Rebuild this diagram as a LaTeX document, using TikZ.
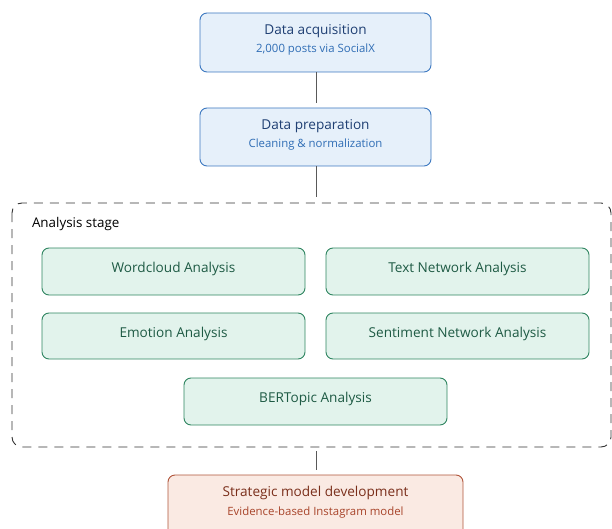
\documentclass[tikz,border=0pt]{standalone}
\usepackage{fontspec}
\setmainfont{Open Sans}
\begin{document}
\begin{tikzpicture}[x=1pt,y=-1pt,
  every node/.style={inner sep=0pt, outer sep=0pt},
  bluebox/.style={draw=blueB, fill=blueF, line width=0.9pt, rounded corners=7pt},
  greenbox/.style={draw=greenB, fill=greenF, line width=0.9pt, rounded corners=7pt},
  redbox/.style={draw=redB, fill=redF, line width=0.9pt, rounded corners=7pt},
  conn/.style={draw=gray!70!black, line width=0.9pt},
  ttl/.style={font=\fontsize{13.6}{15}\selectfont},
  sub/.style={font=\fontsize{11.4}{13}\selectfont}]
\definecolor{blueB}{HTML}{3C78C0}
\definecolor{blueF}{HTML}{E6F0FA}
\definecolor{blueT}{HTML}{1F3F73}
\definecolor{blueS}{HTML}{2F6DB5}
\definecolor{greenB}{HTML}{2E8560}
\definecolor{greenF}{HTML}{E2F3EC}
\definecolor{greenT}{HTML}{1E5A44}
\definecolor{redB}{HTML}{B0543A}
\definecolor{redF}{HTML}{FAEAE3}
\definecolor{redT}{HTML}{7A2E1A}
\definecolor{redS}{HTML}{A8442A}
\useasboundingbox (0,0) rectangle (612,529);

% boxes
\path[bluebox] (200,13) rectangle (431,72);
\node[ttl, text=blueT] (acqT) at (315.5,31) {Data acquisition};
\node[sub, text=blueS] (acqS) at (315.5,50) {2,000 posts via SocialX};

\path[bluebox] (200,108) rectangle (431,166);
\node[ttl, text=blueT] (prepT) at (315.5,126) {Data preparation};
\node[sub, text=blueS] (prepS) at (315.5,145) {Cleaning \& normalization};

\coordinate (a1) at (316,72.5);
\coordinate (a2) at (316,103);
\coordinate (b1) at (316,166.5);
\coordinate (b2) at (316,197);
\draw[conn] (a1) -- (a2);
\draw[conn] (b1) -- (b2);

% analysis stage
\draw[gray!40!black, line width=0.9pt, dash pattern=on 9pt off 7pt, rounded corners=10pt] (12,203) rectangle (611,447);
\node[anchor=west, font=\fontsize{13.4}{15}\selectfont] (stage) at (32,224) {Analysis stage};

\path[greenbox] (42,248) rectangle (305,295);
\node[ttl, text=greenT] (wc) at (173.5,268.5) {Wordcloud Analysis};
\path[greenbox] (326,248) rectangle (589,295);
\node[ttl, text=greenT] (tn) at (457.5,268.5) {Text Network Analysis};
\path[greenbox] (42,313) rectangle (305,359);
\node[ttl, text=greenT] (em) at (173.5,333.5) {Emotion Analysis};
\path[greenbox] (326,313) rectangle (589,359);
\node[ttl, text=greenT] (sn) at (457.5,333.5) {Sentiment Network Analysis};
\path[greenbox] (184,378) rectangle (447,425);
\node[ttl, text=greenT] (bt) at (315.5,398.5) {BERTopic Analysis};

\coordinate (c1) at (316,451);
\coordinate (c2) at (316,470);
\draw[conn] (c1) -- (c2);

\path[redbox] (168,475) rectangle (463,545);
\node[ttl, text=redT] (smT) at (315.5,493) {Strategic model development};
\node[sub, text=redS] (smS) at (315.5,512.5) {Evidence-based Instagram model};
\end{tikzpicture}
\end{document}
